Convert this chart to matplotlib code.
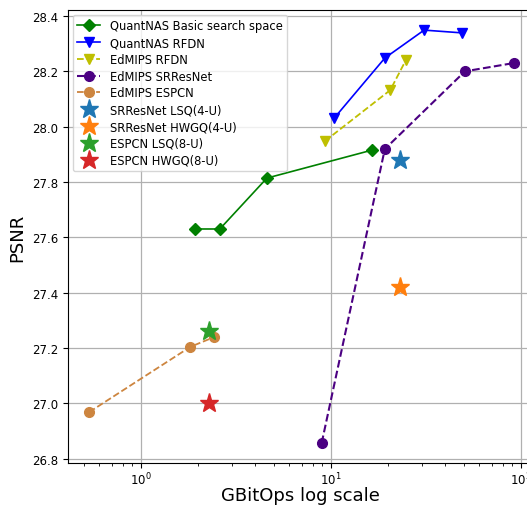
import matplotlib.pyplot as plt

# QuantNAS searches
qnas_basic_ops = [1.92, 2.6, 4.6, 16.4]
qnas_basic_psnr = [27.63, 27.63, 27.814, 27.915]
qnas_rfdn_ops = [10.4, 19.2, 30.9, 48.9]
qnas_rfdn_psnr = [28.031, 28.248, 28.349, 28.339]

# EdMIPS baselines
edmips_rfdn_ops = [9.3, 20.5, 24.8]
edmips_rfdn_psnr = [27.948, 28.132, 28.241]
edmips_srresnet_ops = [8.93, 19.2, 50.7, 91.8]
edmips_srresnet_psnr = [26.856, 27.919, 28.2, 28.23]
edmips_espcn_ops = [0.534, 1.82, 2.42]
edmips_espcn_psnr = [26.968, 27.204, 27.239]

# uniform quantization results
star_labels = ["SRResNet LSQ(4-U)", "SRResNet HWGQ(4-U)", "ESPCN LSQ(8-U)", "ESPCN HWGQ(8-U)"]
star_ops = [23.1, 23.1, 2.29, 2.29]
star_psnr = [27.879, 27.42, 27.262, 27.0]
star_colors = ["C0", "C1", "C2", "C3"]

fig = plt.figure(figsize=(5.27, 5.06), dpi=100)
ax = fig.add_axes([68 / 527, 42 / 506, 465 / 527, 453 / 506])

ax.plot(qnas_basic_ops, qnas_basic_psnr, "-D", color="green", ms=6, lw=1.2,
        label="QuantNAS Basic search space")
ax.plot(qnas_rfdn_ops, qnas_rfdn_psnr, "-v", color="blue", ms=7, lw=1.2,
        label="QuantNAS RFDN")
ax.plot(edmips_rfdn_ops, edmips_rfdn_psnr, "--v", color="y", ms=7, lw=1.3,
        label="EdMIPS RFDN")
ax.plot(edmips_srresnet_ops, edmips_srresnet_psnr, "--o", color="indigo", ms=7, lw=1.5,
        label="EdMIPS SRResNet")
ax.plot(edmips_espcn_ops, edmips_espcn_psnr, "--o", color="peru", ms=7, lw=1.3,
        label="EdMIPS ESPCN")
for lbl, x, y, c in zip(star_labels, star_ops, star_psnr, star_colors):
    ax.plot([x], [y], "*", color=c, ms=14, label=lbl)

ax.set_xscale("log")
ax.set_xlim(10 ** -0.384, 10 ** 2.063)
ax.set_ylim(26.784, 28.4217)
ax.set_yticks([26.8, 27.0, 27.2, 27.4, 27.6, 27.8, 28.0, 28.2, 28.4])
ax.grid(True, which="major", color="#b0b0b0", lw=0.9)
ax.set_axisbelow(True)
ax.tick_params(labelsize=8.5)
ax.tick_params(axis="x", pad=2)
ax.set_xlabel("GBitOps log scale", fontsize=13, labelpad=-1)
ax.set_ylabel("PSNR", fontsize=13)
ax.legend(loc="upper left", fontsize=8.3, labelspacing=0.33, borderaxespad=0.4)

fig.savefig("out.png", dpi=100)
